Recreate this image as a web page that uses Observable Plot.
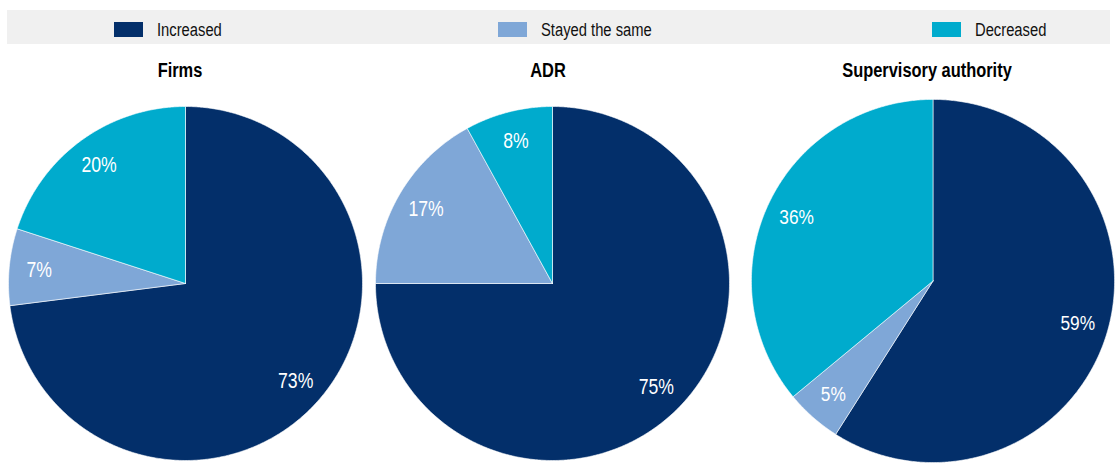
<!DOCTYPE html>
<html>
<head>
<meta charset="utf-8">
<script src="https://cdn.jsdelivr.net/npm/d3@7"></script>
<script src="https://cdn.jsdelivr.net/npm/@observablehq/plot@0.6"></script>
<style>
  html, body { margin: 0; padding: 0; background: #fff; width: 1118px; height: 464px; overflow: hidden; }
  body { position: relative; font-family: "Liberation Sans", Arial, sans-serif; }
  #band { position: absolute; left: 7px; top: 10px; width: 1103px; height: 34px; background: #f0f0f0; }
  .sw { position: absolute; top: 22px; width: 29px; height: 15px; }
  .lt { position: absolute; top: 21px; font-size: 18px; line-height: 18px; color: #111; white-space: nowrap;
        transform: scaleX(0.82); transform-origin: 0 50%; }
  .title { position: absolute; top: 60px; font-weight: bold; font-size: 20px; line-height: 20px; color: #000;
           white-space: nowrap; transform: translateX(-50%) scaleX(0.82); transform-origin: 50% 50%; }
  .pie { position: absolute; }
  .pie svg { overflow: visible; }
</style>
</head>
<body>
<div id="band"></div>
<div id="legend"></div>
<div id="charts"></div>
<script>
// ---- data ----
const categories = ["Increased", "Stayed the same", "Decreased"];
const groups = ["Firms", "ADR", "Supervisory authority"];
const firmsValues = [73, 7, 20];
const adrValues = [75, 17, 8];
const supervisoryValues = [59, 5, 36];
const colors = ["#032f6a", "#7fa7d7", "#00abcd"];

// ---- layout ----
const seriesValues = [firmsValues, adrValues, supervisoryValues];
const layout = [
  {cx: 185, cy: 283, r: 177, tx: 180},
  {cx: 551.5, cy: 283, r: 177, tx: 548},
  {cx: 936, cy: 284, r: 185, tx: 927}
];
const legendX = [114, 498, 932];

// legend
const legend = document.getElementById("legend");
categories.forEach((c, i) => {
  const sw = document.createElement("div");
  sw.className = "sw";
  sw.style.left = legendX[i] + "px";
  sw.style.background = colors[i];
  legend.appendChild(sw);
  const t = document.createElement("div");
  t.className = "lt";
  t.style.left = (legendX[i] + 43) + "px";
  t.textContent = c;
  legend.appendChild(t);
});

const charts = document.getElementById("charts");
const pad = 4;

groups.forEach((g, gi) => {
  const vals = seriesValues[gi];
  const {cx, cy, r, tx} = layout[gi];
  const arcs = d3.pie().sort(null).value(d => d.value)(categories.map((c, i) => ({cat: c, value: vals[i]})));
  const pts = [];
  const labels = [];
  arcs.forEach(a => {
    const cat = a.data.cat;
    pts.push({cat, x: 0, y: 0});
    const n = Math.max(2, Math.ceil((a.endAngle - a.startAngle) / (Math.PI / 360)));
    for (let k = 0; k <= n; k++) {
      const ang = a.startAngle + (a.endAngle - a.startAngle) * k / n;
      pts.push({cat, x: Math.sin(ang), y: Math.cos(ang)});
    }
    pts.push({cat, x: 0, y: 0});
    const mid = (a.startAngle + a.endAngle) / 2;
    labels.push({cat, x: 0.83 * Math.sin(mid), y: 0.83 * Math.cos(mid), text: a.data.value + "%"});
  });

  const size = 2 * r + 2 * pad;
  const chart = Plot.plot({
    width: size,
    height: size,
    margin: pad,
    x: {domain: [-1, 1], axis: null},
    y: {domain: [-1, 1], axis: null},
    color: {domain: categories, range: colors},
    marks: [
      Plot.line(pts, {x: "x", y: "y", z: "cat", fill: "cat", stroke: "white", strokeWidth: 0.6, curve: "linear"}),
      Plot.text(labels, {x: "x", y: "y", text: "text", fill: "white", fontSize: 21.5,
        fontFamily: "Liberation Sans, Arial, sans-serif"})
    ]
  });
  const wrap = document.createElement("div");
  wrap.className = "pie";
  wrap.style.left = (cx - r - pad) + "px";
  wrap.style.top = (cy - r - pad) + "px";
  wrap.appendChild(chart);
  charts.appendChild(wrap);
  // condense label glyphs to mimic a narrow typeface
  chart.querySelectorAll("text").forEach(el => {
    const L = el.getComputedTextLength();
    el.setAttribute("textLength", (L * 0.82).toFixed(2));
    el.setAttribute("lengthAdjust", "spacingAndGlyphs");
  });

  const t = document.createElement("div");
  t.className = "title";
  t.style.left = tx + "px";
  t.textContent = g;
  charts.appendChild(t);
});
</script>
</body>
</html>
